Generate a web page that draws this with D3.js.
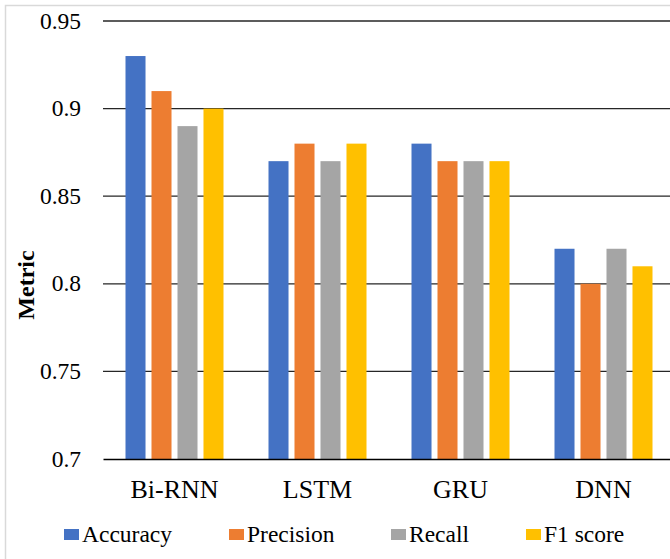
<!DOCTYPE html>
<html>
<head>
<meta charset="utf-8">
<script src="https://cdn.jsdelivr.net/npm/d3@7/dist/d3.min.js"></script>
<style>
  html, body { margin: 0; padding: 0; background: #fff; }
  svg { display: block; }
  svg text { font-family: 'Liberation Serif', 'Times New Roman', 'DejaVu Serif', serif; }
</style>
</head>
<body>
<svg id="chart" width="670" height="559"></svg>
<script>
// Model comparison data
const models = ["Bi-RNN", "LSTM", "GRU", "DNN"];
const metrics = ["Accuracy", "Precision", "Recall", "F1 score"];
const accuracy  = [0.93, 0.87, 0.88, 0.82];
const precision = [0.91, 0.88, 0.87, 0.80];
const recall    = [0.89, 0.87, 0.87, 0.82];
const f1score   = [0.90, 0.88, 0.87, 0.81];
const yTicks = [0.7, 0.75, 0.8, 0.85, 0.9, 0.95];
const colors = ["#4472C4", "#ED7D31", "#A5A5A5", "#FFC000"];

const seriesValues = [accuracy, precision, recall, f1score];
const rows = models.map((m, i) => ({
  model: m,
  values: metrics.map((k, j) => ({ key: k, value: seriesValues[j][i] }))
}));

const svg = d3.select("#chart");

// Outer chart frame (light gray)
svg.append("rect")
  .attr("x", 5.5).attr("y", 5.5)
  .attr("width", 700).attr("height", 600)
  .attr("fill", "none").attr("stroke", "#d9d9d9").attr("stroke-width", 1.5);

const plot = { left: 103, right: 675, top: 21, bottom: 459 };

const x = d3.scaleBand().domain(models).range([plot.left, plot.right]).paddingInner(0).paddingOuter(0);
const x1 = d3.scaleBand().domain(metrics).range([22.5, 143 - 22.5]).paddingInner(0.23).paddingOuter(0);
const y = d3.scaleLinear().domain([0.7, 0.95]).range([plot.bottom, plot.top]);

// Horizontal gridlines
svg.append("g")
  .selectAll("line")
  .data(yTicks.slice(1))
  .join("line")
  .attr("x1", plot.left).attr("x2", plot.right)
  .attr("y1", d => y(d)).attr("y2", d => y(d))
  .attr("stroke", "#262626").attr("stroke-width", 1.3);

// Bars
const groups = svg.append("g")
  .selectAll("g")
  .data(rows)
  .join("g")
  .attr("transform", d => `translate(${x(d.model)},0)`);

groups.selectAll("rect")
  .data(d => d.values)
  .join("rect")
  .attr("x", d => x1(d.key))
  .attr("width", x1.bandwidth())
  .attr("y", d => y(d.value))
  .attr("height", d => y(0.7) - y(d.value))
  .attr("fill", (d, i) => colors[i]);

// Y axis (labels only)
const yAxis = d3.axisLeft(y)
  .tickValues(yTicks)
  .tickFormat(d => d3.format("")(+d.toFixed(2)))
  .tickSize(0)
  .tickPadding(22);
const gy = svg.append("g").attr("transform", `translate(${plot.left},0)`).call(yAxis);
gy.attr("font-family", null).attr("font-size", null);
gy.select(".domain").remove();
gy.selectAll("text").attr("fill", "#000").attr("dy", "0.3em").style("font-size", "23.5px");

// X axis
const xAxis = d3.axisBottom(x).tickSize(0).tickPadding(20);
const gx = svg.append("g").attr("transform", `translate(0,${plot.bottom})`).call(xAxis);
gx.attr("font-family", null).attr("font-size", null);
gx.select(".domain").attr("stroke", "#000").attr("stroke-width", 1.5);
gx.selectAll("text").attr("fill", "#000").attr("y", 0).attr("dy", 0)
  .attr("transform", "translate(0,39)").style("font-size", "26px");

// Y axis title
svg.append("text")
  .attr("transform", `translate(34,${285}) rotate(-90)`)
  .attr("text-anchor", "middle")
  .style("font-weight", "bold")
  .style("font-size", "24px")
  .text("Metric");

// Legend
const legendX = [64, 229, 391, 526];
const legend = svg.append("g")
  .selectAll("g")
  .data(metrics)
  .join("g")
  .attr("transform", (d, i) => `translate(${legendX[i]},529)`);
legend.append("rect")
  .attr("width", 15).attr("height", 11)
  .attr("fill", (d, i) => colors[i]);
legend.append("text")
  .attr("x", 18).attr("y", 13)
  .style("font-size", "23.5px")
  .text(d => d);
</script>
</body>
</html>
